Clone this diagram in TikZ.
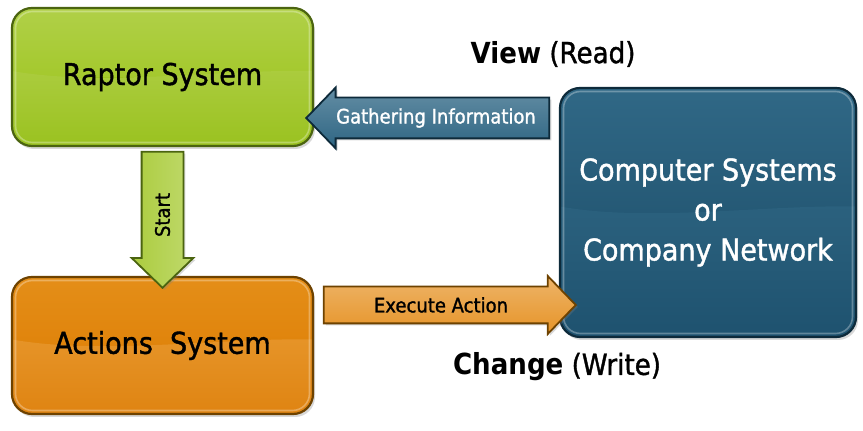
\documentclass[tikz,border=0pt]{standalone}
\usepackage{fontspec}
\setmainfont{DejaVu Sans}[FakeStretch=0.9]
\newfontfamily\medfont{DejaVu Sans}[FakeStretch=0.9, RawFeature={embolden=1.3}]
\usetikzlibrary{shapes.arrows,shadows,calc}
\definecolor{grnT}{HTML}{B0D048}
\definecolor{grnA}{HTML}{98C112}
\definecolor{grnB}{HTML}{ABCC3E}
\definecolor{grnC}{HTML}{9AC220}
\definecolor{grnD}{HTML}{4B6410}
\definecolor{orgT}{HTML}{E48E18}
\definecolor{orgA}{HTML}{DC7A00}
\definecolor{orgB}{HTML}{E69428}
\definecolor{orgC}{HTML}{DF8412}
\definecolor{orgD}{HTML}{6E4200}
\definecolor{bluT}{HTML}{306886}
\definecolor{bluA}{HTML}{1A4A65}
\definecolor{bluB}{HTML}{2B617E}
\definecolor{bluC}{HTML}{1E526F}
\definecolor{bluD}{HTML}{0D2A3A}
\newcommand\glossfill[4]{%
  \shade[sharp corners, top color=#1, bottom color=#2] (path picture bounding box.north west) rectangle (path picture bounding box.east);
  \shade[sharp corners, top color=#3, bottom color=#4] ($(path picture bounding box.west)+(0,6)$)
    .. controls ($(path picture bounding box.west)!0.3!(path picture bounding box.east)+(0,-10)$)
    and ($(path picture bounding box.west)!0.7!(path picture bounding box.east)+(0,8)$)
    .. ($(path picture bounding box.east)+(0,6)$)
    -- (path picture bounding box.south east) -- (path picture bounding box.south west) -- cycle;
  \draw[white, opacity=0.3, line width=1.6pt, rounded corners=17pt]
    ($(path picture bounding box.north west)+(3.5,-3.5)$) rectangle ($(path picture bounding box.south east)+(-3.5,3.5)$);}
\begin{document}
\begin{tikzpicture}[x=1pt,y=1pt,
  sysbox/.style={rounded corners=20pt, line width=2.2pt, inner sep=0pt,
    drop shadow={shadow xshift=2pt, shadow yshift=-3pt, opacity=0.3}},
  greenbox/.style={sysbox, draw=grnD, fill=grnA, minimum width=301pt, minimum height=138pt,
    path picture={\glossfill{grnT}{grnA}{grnB}{grnC}}},
  orangebox/.style={sysbox, draw=orgD, fill=orgA, minimum width=301pt, minimum height=137pt,
    path picture={\glossfill{orgT}{orgA}{orgB}{orgC}}},
  bluebox/.style={sysbox, draw=bluD, fill=bluA, minimum width=296pt, minimum height=249pt,
    path picture={\glossfill{bluT}{bluA}{bluB}{bluC}}},
  fatarrow/.style={single arrow, line width=1.8pt, single arrow tip angle=92, anchor=tip,
    drop shadow={shadow xshift=2pt, shadow yshift=-2pt, opacity=0.3}},
  boxtext/.style={font=\medfont\fontsize{30}{40}\selectfont, align=center},
  arrtext/.style={font=\medfont\fontsize{20}{22}\selectfont},
  sidetext/.style={font=\fontsize{29}{32}\selectfont}
]
\useasboundingbox (0,0) rectangle (863,431);
\fill[white] (0,0) rectangle (863,431);

\node[greenbox] (raptor) at (162.5,354) {};
\node[orangebox] (actions) at (162.5,85.5) {};
\node[bluebox] (net) at (708,218.5) {};

\node[boxtext] (raptorT) at (raptor.center) {Raptor System};
\node[boxtext] (actionsT) at (actions.center) {Actions\ \ System};
\node[boxtext, text=white] (netT) at (net.center) {Computer Systems\\or\\Company Network};

% Gathering Information arrow (net -> raptor)
\node[fatarrow, shape border rotate=180, draw=bluD, top color=bluT!75!white, bottom color=bluT!90!bluA,
  minimum height=243pt, inner xsep=0pt, inner ysep=19.5pt, single arrow head extend=10pt]
  (gather) at (305,313) {};
% Start arrow (raptor -> actions)
\node[fatarrow, shape border rotate=270, draw=grnD, left color=grnB, right color=grnT!80!white,
  minimum height=136pt, inner ysep=0pt, inner xsep=20pt, single arrow head extend=10pt]
  (start) at (162.5,142) {};
% Execute Action arrow (actions -> net)
\node[fatarrow, draw=orgD, top color=orgB!70!white, bottom color=orgB,
  minimum height=252pt, inner xsep=0pt, inner ysep=17.5pt, single arrow head extend=10.5pt]
  (exec) at (577,126) {};

\node[arrtext, text=white] (gatherT) at (436,313) {Gathering Information};
\node[arrtext, rotate=90] (startT) at (162.5,216) {Start};
\node[arrtext] (execT) at (441,126) {Execute Action};

\node[sidetext] (view) at (553,377) {\textbf{View} {\medfont (Read)}};
\node[sidetext] (change) at (557,64) {\textbf{Change} {\medfont (Write)}};
\end{tikzpicture}
\end{document}
